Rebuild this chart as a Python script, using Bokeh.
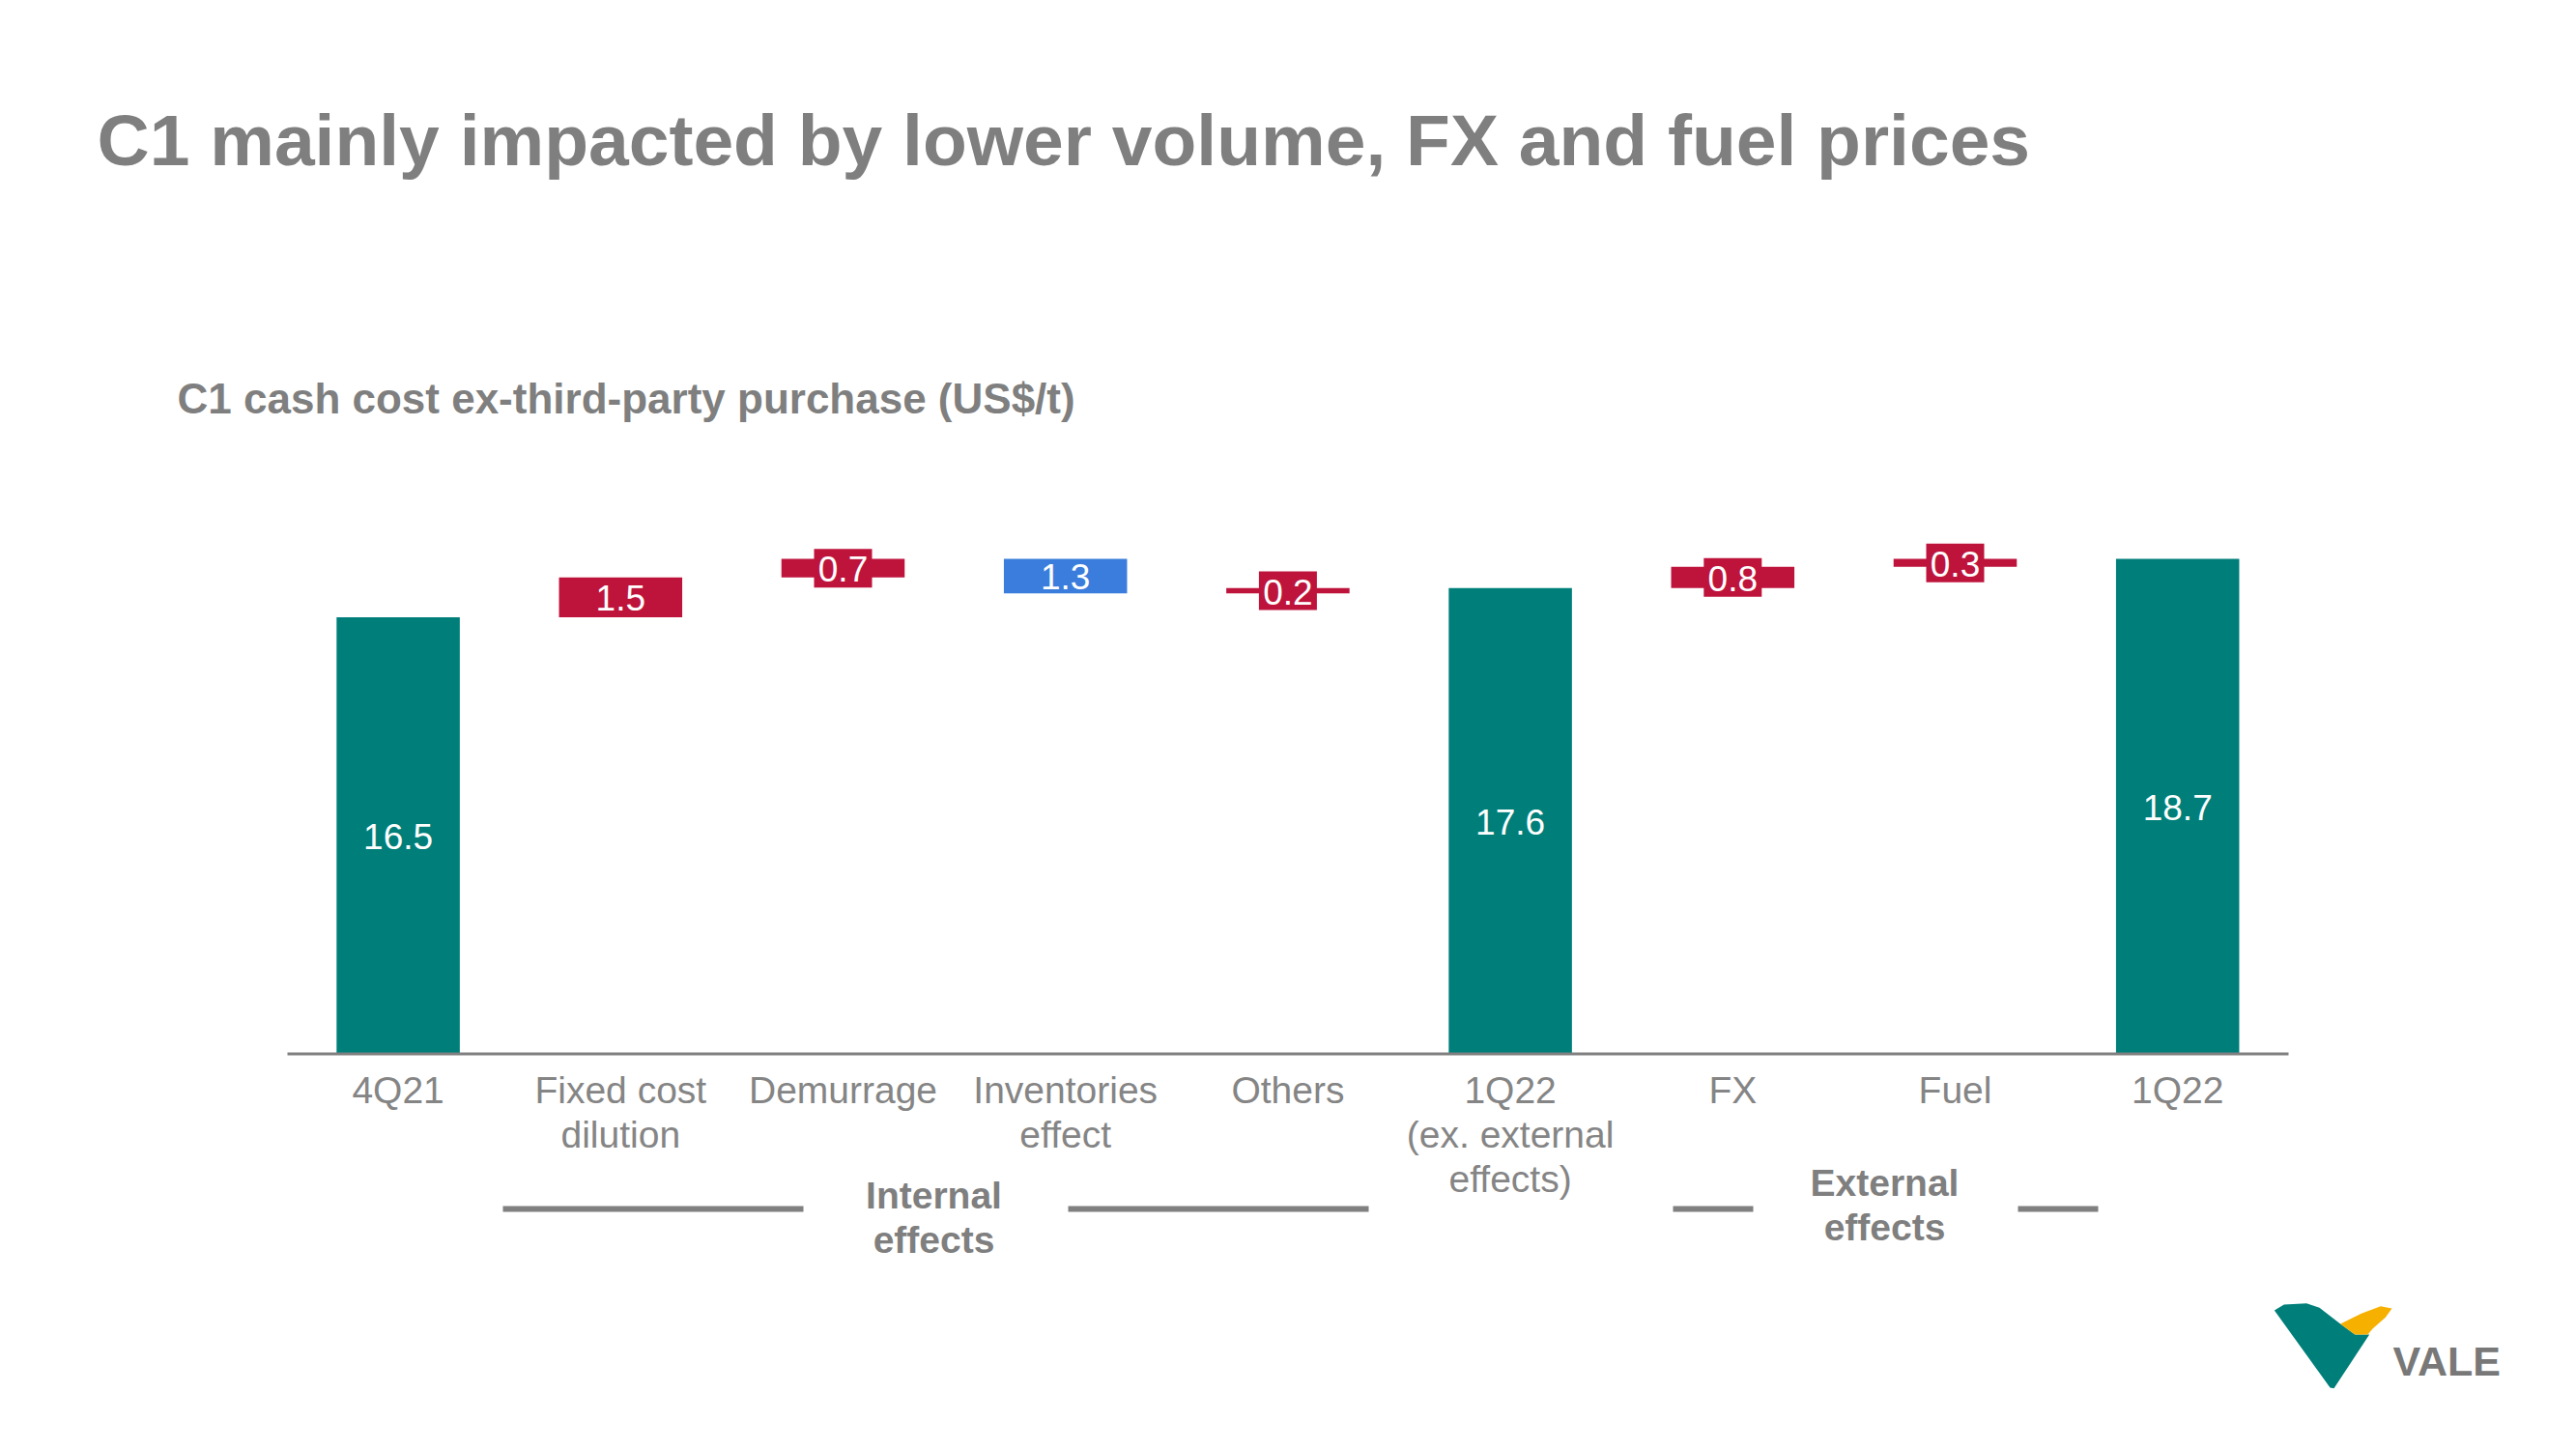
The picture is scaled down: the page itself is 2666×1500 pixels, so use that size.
import numpy as np
from bokeh.plotting import figure
from bokeh.models import Range1d, ColumnDataSource, Label
from bokeh.core.properties import value
from bokeh.embed import file_html
from bokeh.resources import INLINE

# ---------------- data ----------------
categories = ["4Q21", "Fixed cost\ndilution", "Demurrage", "Inventories\neffect", "Others",
              "1Q22\n(ex. external\neffects)", "FX", "Fuel", "1Q22"]
values = [16.5, 1.5, 0.7, -1.3, 0.2, 17.6, 0.8, 0.3, 18.7]
kinds = ["total", "delta", "delta", "delta", "delta", "total", "delta", "delta", "total"]
group_labels = ["Internal\neffects", "External\neffects"]
title_text = "C1 mainly impacted by lower volume, FX and fuel prices"
subtitle_text = "C1 cash cost ex-third-party purchase (US$/t)"

# ---------------- style ----------------
TEAL = "#007F7A"
RED = "#BE143C"
BLUE = "#3B7DDC"
GRAY = "#7F7F7F"
LGRAY = "#858585"
FONT = "Liberation Sans"
BL = 0.4  # baseline correction (fraction of font size)

# ---------------- geometry (page pixels -> data) ----------------
W, H = 2650, 1484
c0 = 411.6
step = 230.2
yb = 1090.5
ppu = 27.4
x_start = -c0 / step
x_end = x_start + W / step
y_end = yb / ppu
y_start = -(H - yb) / ppu


def X(px):
    return x_start + px / step


def Y(py):
    return (yb - py) / ppu


p = figure(width=W, height=H, x_range=Range1d(x_start, x_end), y_range=Range1d(y_start, y_end),
           output_backend="svg", toolbar_location=None, min_border=0)
p.axis.visible = False
p.grid.visible = False
p.outline_line_color = None
p.background_fill_color = "white"
p.border_fill_color = "white"

# ---------------- waterfall ----------------
idx = list(range(len(categories)))
bottoms, tops, colors = [], [], []
run = 0.0
for v, k in zip(values, kinds):
    if k == "total":
        b, t = 0.0, v
        run = v
        colors.append(TEAL)
    else:
        b, t = run, run + v
        run += v
        colors.append(RED if v > 0 else BLUE)
    bottoms.append(min(b, t))
    tops.append(max(b, t))

bars = ColumnDataSource(dict(x=idx, bottom=bottoms, top=tops, color=colors))
p.vbar(x="x", bottom="bottom", top="top", width=0.554, fill_color="color", line_color=None, source=bars)

# baseline
p.segment(x0=[X(297)], y0=[0], x1=[X(2368)], y1=[0], line_color="#808080", line_width=3)

# value labels
lab_x, lab_y, lab_t = [], [], []
box_x, box_y = [], []
for i, (v, k, b, t) in enumerate(zip(values, kinds, bottoms, tops)):
    c = (b + t) / 2
    lab_x.append(i)
    lab_y.append(c)
    lab_t.append(f"{abs(v):.1f}")
    if k == "delta" and abs(v) < 1:
        box_x.append(i)
        box_y.append(c)

p.rect(x=box_x, y=box_y, width=60, height=40, width_units="screen", height_units="screen",
       fill_color=RED, line_color=None)
p.text(x=lab_x, y=lab_y, text=lab_t, text_color="white", text_font=value(FONT),
       text_font_size="37px", text_align="center", text_baseline="middle", y_offset=1)

# category labels (one text per line)
CFS = 39
cx, cy, ct, co = [], [], [], []
for i, cat in enumerate(categories):
    for j, line in enumerate(cat.split("\n")):
        cx.append(i)
        cy.append(0)
        ct.append(line)
        co.append(53.5 + 46 * j - BL * CFS)
p.text(x=cx, y=cy, text=ct, y_offset=co, text_color=LGRAY, text_font=value(FONT),
       text_font_size=f"{CFS}px", text_align="center", text_baseline="alphabetic")

# group brackets
seg_x0 = [X(520), X(1105), X(1731), X(2088)]
seg_x1 = [X(831), X(1416), X(1814), X(2171)]
p.segment(x0=seg_x0, y0=[Y(1251)] * 4, x1=seg_x1, y1=[Y(1251)] * 4, line_color="#808080", line_width=6)

GFS = 39
g_cx = [966, 1950]
g_base = [1253, 1240]
gx, gy, gt = [], [], []
for lbl, cxp, bp in zip(group_labels, g_cx, g_base):
    for j, line in enumerate(lbl.split("\n")):
        gx.append(X(cxp))
        gy.append(Y(bp + 46 * j - BL * GFS))
        gt.append(line)
p.text(x=gx, y=gy, text=gt, text_color=GRAY, text_font=value(FONT), text_font_style="bold",
       text_font_size=f"{GFS}px", text_align="center", text_baseline="alphabetic")

# titles
TFS, SFS = 75, 44
p.add_layout(Label(x=X(100), y=Y(174 - BL * TFS), text=title_text, text_color=GRAY, text_font=FONT,
                   text_font_style="bold", text_font_size=f"{TFS}px", text_baseline="alphabetic"))
p.add_layout(Label(x=X(183), y=Y(430 - BL * SFS), text=subtitle_text, text_color=GRAY, text_font=FONT,
                   text_font_style="bold", text_font_size=f"{SFS}px", text_baseline="alphabetic"))

# logo
def zp(pts):
    return [X(2300 + a / 3) for a, b in pts], [Y(1320 + b / 3) for a, b in pts]

green = [(160, 108), (190, 90), (260, 86), (300, 100), (365, 150), (410, 183), (455, 183),
         (345, 350), (333, 348)]
yellow = [(365, 150), (430, 118), (490, 95), (525, 102), (505, 130), (465, 165), (450, 183), (410, 183)]
gxs, gys = zp(green)
yxs, yys = zp(yellow)
p.patches(xs=[gxs, yxs], ys=[gys, yys], fill_color=[TEAL, "#F5B000"], line_color=None)
p.add_layout(Label(x=X(2476), y=Y(1426 - BL * 43), text="VALE", text_color="#787878", text_font="Liberation Sans",
                   text_font_style="bold", text_font_size="43px", text_baseline="alphabetic"))

open("out.html", "w").write(file_html(p, INLINE))
